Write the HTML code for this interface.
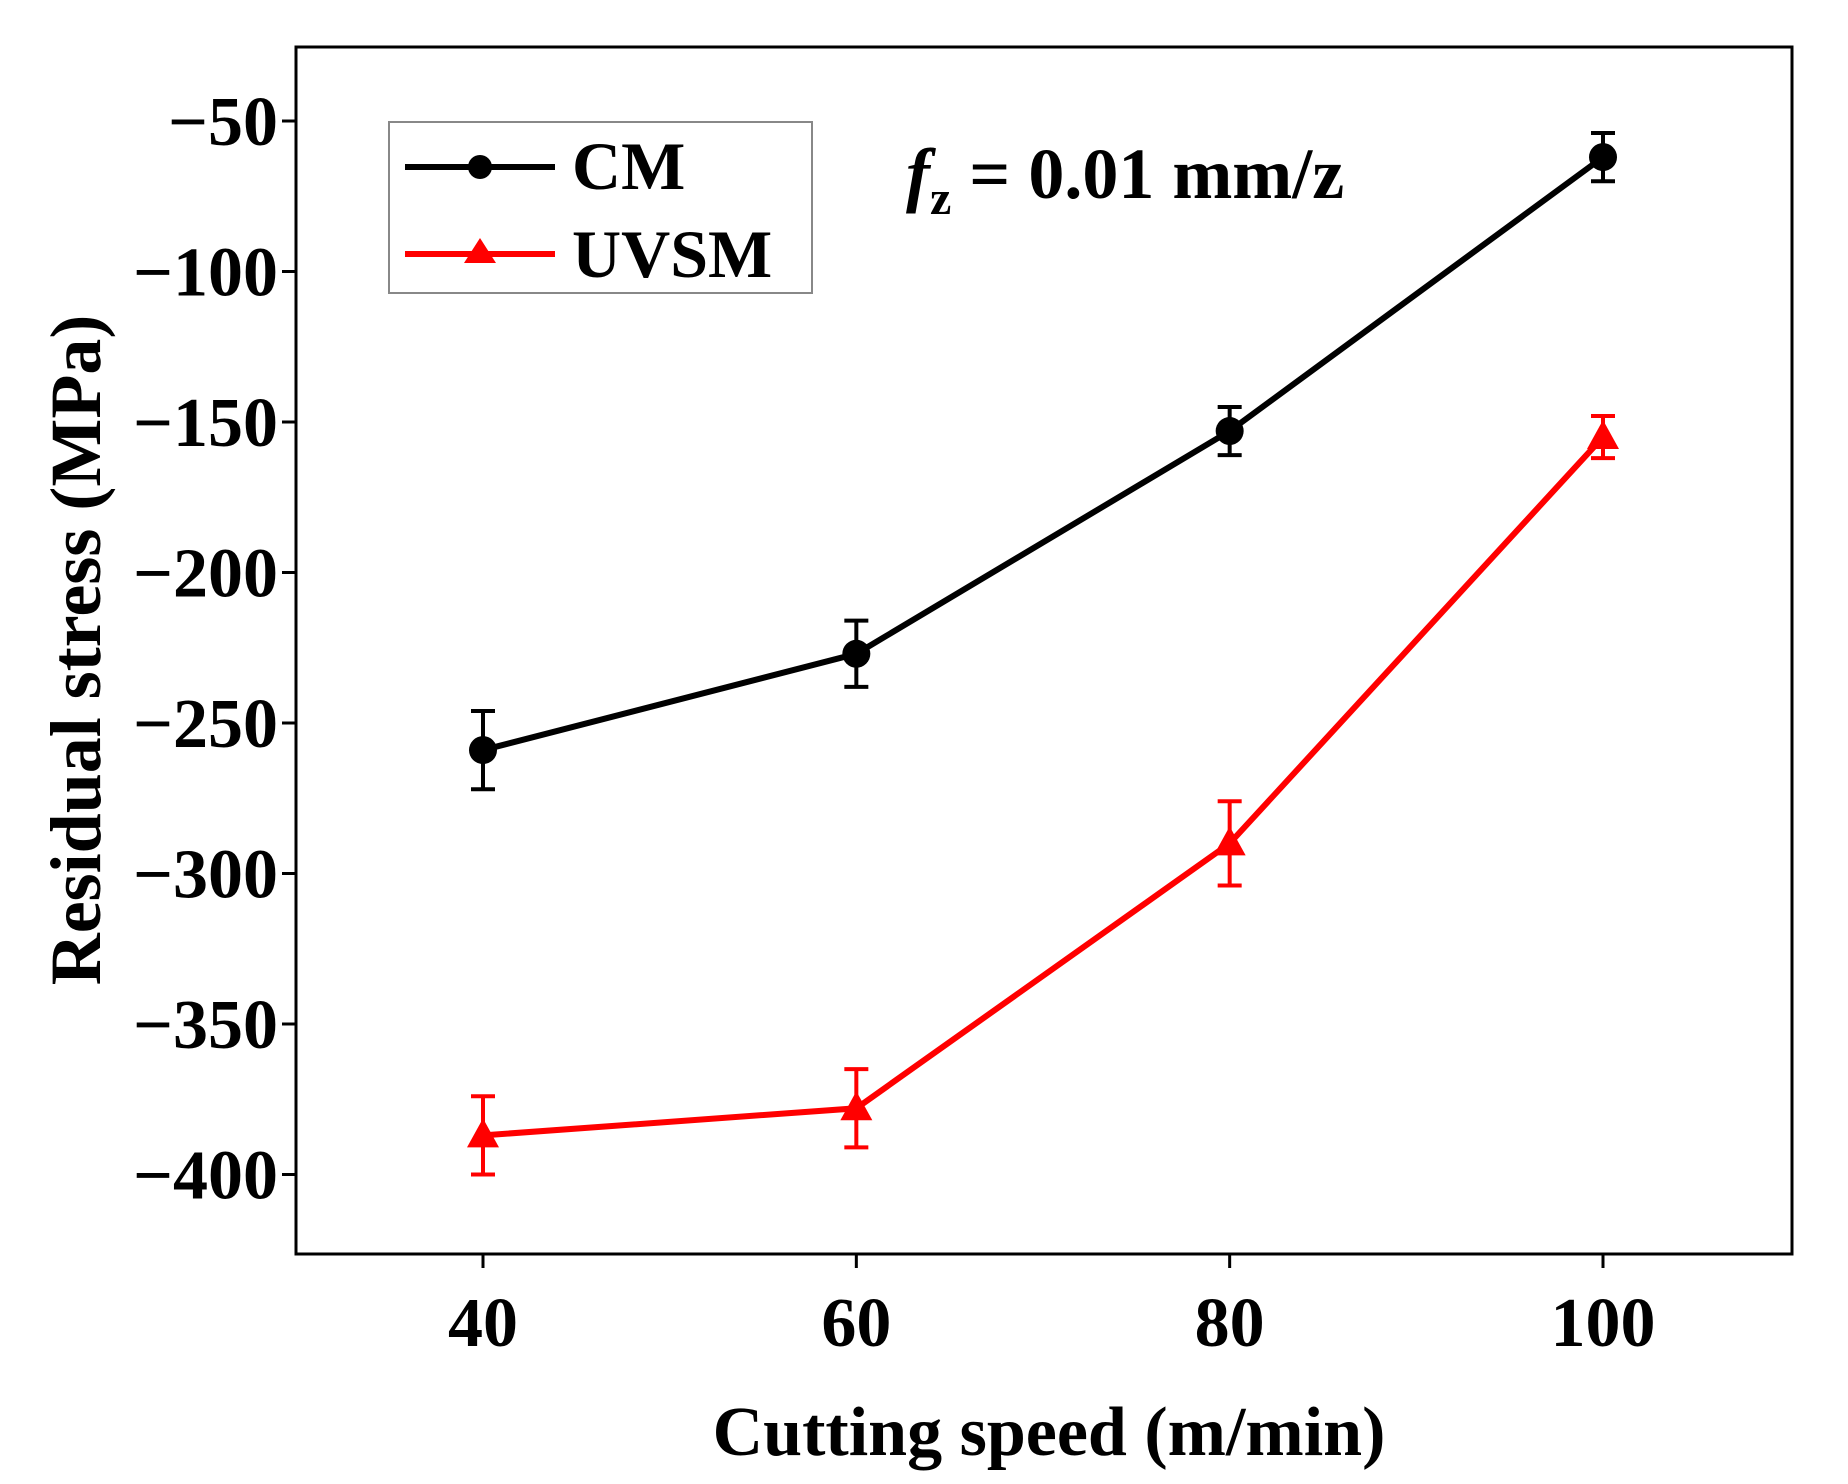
<!DOCTYPE html>
<html><head><meta charset="utf-8"><style>
html,body{margin:0;padding:0;background:#fff}
svg{display:block}
text{font-family:"Liberation Serif",serif;font-weight:bold;fill:#000}
</style></head><body>
<svg width="1848" height="1484" viewBox="0 0 1848 1484">
<g id="axes"></g>
<g id="marks"></g>
<g>
<rect x="389" y="122" width="423" height="171" fill="#fff" stroke="#888" stroke-width="2"/>
<g>
<line x1="405" y1="167" x2="555" y2="167" stroke="#000" stroke-width="6"/>
<circle cx="480" cy="167" r="12" fill="#000"/>
<text x="572" y="189" font-size="68">CM</text></g>
<g>
<line x1="405" y1="254" x2="555" y2="254" stroke="#f00" stroke-width="6"/>
<polygon points="480,238 496,263 464,263" fill="#f00"/>
<text x="572" y="277" font-size="68">UVSM</text></g>
</g>
<text x="906" y="198" font-size="72"><tspan font-style="italic">f</tspan><tspan font-size="48" dy="16">z</tspan><tspan dy="-16"> = 0.01 mm/z</tspan></text>
<text x="1049" y="1455" font-size="70" text-anchor="middle">Cutting speed (m/min)</text>
<text transform="translate(100,650) rotate(-90)" font-size="72" text-anchor="middle">Residual stress (MPa)</text>
</svg>
<script>
const categories=[40,60,80,100];
const cmValues=[-259,-227,-153,-62];
const cmErrors=[13,11,8,8];
const uvsmValues=[-387,-378,-290,-155];
const uvsmErrors=[13,13,14,7];
const yTicks=[-50,-100,-150,-200,-250,-300,-350,-400];
const xTicks=[40,60,80,100];
const NS="http://www.w3.org/2000/svg";
const L=296,R=1792,T=47,B=1254;
const xs=v=>483+(v-40)*(1120/60);
const ys=v=>121+(-50-v)*(150.5/50);
function mk(tag,attrs,parent){const e=document.createElementNS(NS,tag);for(const k in attrs)e.setAttribute(k,attrs[k]);parent.appendChild(e);return e;}
const axes=document.getElementById('axes'),marks=document.getElementById('marks');
const frame=mk('rect',{x:L,y:T,width:R-L,height:B-T,fill:'none',stroke:'#000','stroke-width':3},axes);


yTicks.forEach(v=>{const y=ys(v);
const t=mk('line',{x1:L-14,x2:L,y1:y,y2:y,stroke:'#000','stroke-width':3},axes);


const lb=mk('text',{x:L-18,y:y+24,'font-size':70,'text-anchor':'end'},axes);


lb.textContent='\u2212'+Math.abs(v);});
xTicks.forEach(v=>{const x=xs(v);
const t=mk('line',{x1:x,x2:x,y1:B,y2:B+14,stroke:'#000','stroke-width':3},axes);


const lb=mk('text',{x:x,y:B+92,'font-size':70,'text-anchor':'middle'},axes);


lb.textContent=v;});
function series(vals,errs,color,name,tri){
const g=mk('g',{},marks);


const pl=mk('polyline',{points:categories.map((c,i)=>xs(c)+','+ys(vals[i])).join(' '),fill:'none',stroke:color,'stroke-width':6},g);


categories.forEach((c,i)=>{const x=xs(c),y=ys(vals[i]),y1=ys(vals[i]+errs[i]),y2=ys(vals[i]-errs[i]);
const eb=mk('path',{d:`M${x},${y1}V${y2}M${x-12},${y1}H${x+12}M${x-12},${y2}H${x+12}`,stroke:color,'stroke-width':4,fill:'none'},g);


let m;
if(tri)m=mk('polygon',{points:`${x},${y-17} ${x+16},${y+12} ${x-16},${y+12}`,fill:color},g);
else m=mk('circle',{cx:x,cy:y,r:14,fill:color},g);

});}
series(cmValues,cmErrors,'#000','cm',false);
series(uvsmValues,uvsmErrors,'#f00','uvsm',true);
</script>
</body></html>
